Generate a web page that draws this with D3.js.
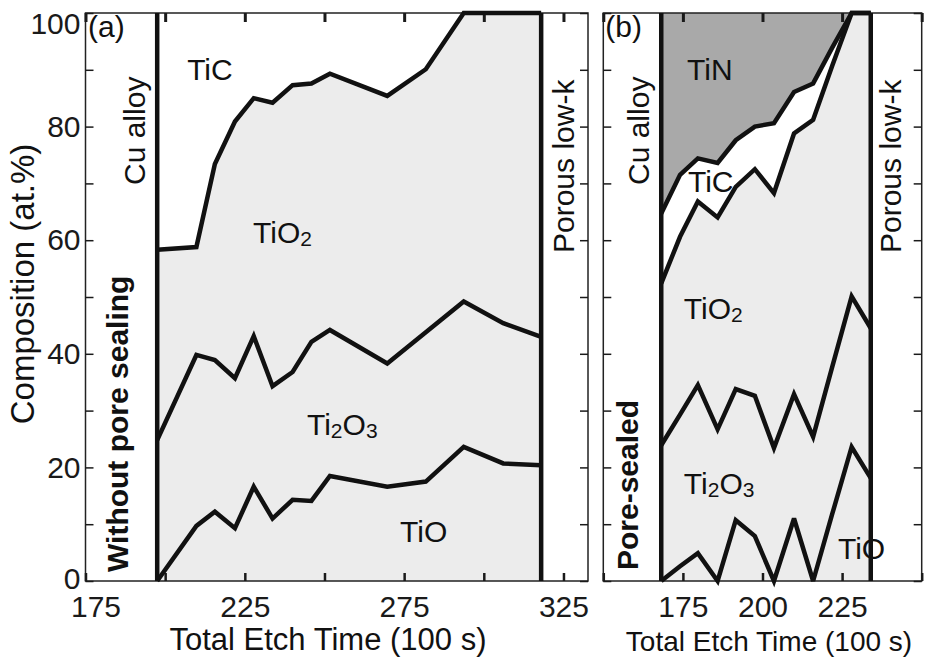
<!DOCTYPE html>
<meta charset="utf-8">
<style>
  body { margin: 0; background: #fff; }
  svg { display: block; font-family: "Liberation Sans", Arial, sans-serif; }
  .tick line { stroke: #1a1a1a; }
  .tick text { font-size: 30px; fill: #1a1a1a; font-family: "Liberation Sans", Arial, sans-serif; }
  .domain { display: none; }
</style>
<svg width="925" height="659"></svg>
<script src="https://d3js.org/d3.v7.min.js"></script>
<script>

// (a) without pore sealing - cumulative layer boundaries (at.%)
var timeA   = [197.5, 209.8, 215.6, 221.9, 227.8, 233.7, 240.0, 245.9, 251.7, 269.7, 281.8, 293.7, 306.1, 318.0];
var aTiO    = [0, 9.7, 12.2, 9.3, 16.6, 11.0, 14.3, 14.1, 18.5, 16.6, 17.5, 23.6, 20.7, 20.4];
var aTi2O3  = [24.8, 39.8, 38.9, 35.7, 43.1, 34.3, 36.8, 42.1, 44.2, 38.3, 43.8, 49.2, 45.4, 43.0];
var aTiO2   = [58.3, 58.8, 73.4, 80.9, 85.0, 84.2, 87.3, 87.6, 89.3, 85.4, 90.1, 100, 100, 100];
var wallsA  = [197.5, 318.0];

// (b) pore-sealed
var timeB   = [168.2, 174.1, 179.7, 185.9, 191.6, 197.6, 203.6, 209.9, 215.9, 221.9, 228.0, 234.0];
var bTiO    = [0, 2.6, 4.9, 0, 10.7, 7.9, 0, 11.0, 0, 11.8, 23.6, 18.1];
var bTi2O3  = [23.9, 29.3, 34.5, 26.7, 33.8, 32.6, 23.4, 32.9, 25.4, 37.7, 50.1, 44.5];
var bTiO2   = [52.4, 60.6, 66.8, 64.0, 69.4, 72.5, 68.3, 78.8, 81.2, 90.7, 100, 100];
var bTiC    = [64.7, 71.5, 74.4, 73.6, 77.6, 80.0, 80.6, 86.1, 87.6, 93.9, 100, 100];
var wallsB  = [168.2, 234.0];

var xTicksA = [175, 200, 225, 250, 275, 300, 325];
var xLabelsA = [175, 225, 275, 325];
var xTicksB = [150, 175, 200, 225, 250];
var xLabelsB = [175, 200, 225];
var yTicks = d3.range(0, 101, 10);
var yLabels = [0, 20, 40, 60, 80, 100];

var light = "#ececec", dark = "#a9a9a9", ink = "#111";

var svg = d3.select("svg");
var y = d3.scaleLinear().domain([0, 100]).range([581, 13]);
var xA = d3.scaleLinear().domain([175, 332.7]).range([85.5, 588]);
var xB = d3.scaleLinear().domain([150, 250]).range([603.3, 921.7]);

function fillArea(x, time, lo, hi, color) {
    var area = d3.area()
        .x(function(d, i) { return x(time[i]); })
        .y0(function(d, i) { return y(lo ? lo[i] : 0); })
        .y1(function(d, i) { return y(hi ? hi[i] : 100); });
    svg.append("path").datum(time).attr("d", area).attr("fill", color);
}

function boundary(x, time, vals) {
    var line = d3.line()
        .x(function(d, i) { return x(time[i]); })
        .y(function(d) { return y(d); });
    svg.append("path").datum(vals).attr("d", line)
        .attr("fill", "none").attr("stroke", ink)
        .attr("stroke-width", 4.5).attr("stroke-linejoin", "miter").attr("stroke-miterlimit", 3);
}

function walls(x, w) {
    svg.selectAll(null).data(w).enter().append("line")
        .attr("x1", function(d) { return x(d); }).attr("x2", function(d) { return x(d); })
        .attr("y1", y(0)).attr("y2", y(100))
        .attr("stroke", ink).attr("stroke-width", 4.5);
}

function label(x, parts, xv, yv, size) {
    var t = svg.append("text").attr("x", x(xv)).attr("y", y(yv))
        .attr("font-size", size || 30).attr("fill", ink);
    parts.forEach(function(p) {
        if (/^\d$/.test(p)) {
            t.append("tspan").attr("font-size", 21).attr("dy", 3).text(p);
        } else {
            t.append("tspan").attr("dy", t.selectAll("tspan").size() ? -3 : 0).text(p);
        }
    });
}

function sideLabel(px, py, text, bold, size) {
    svg.append("text").attr("transform", "translate(" + px + "," + py + ") rotate(-90)")
        .attr("font-size", size || 30).attr("font-weight", bold ? "bold" : "normal")
        .attr("fill", ink).text(text);
}

function frame(x, xTicks, xLabels, showY) {
    var left = x.range()[0], right = x.range()[1];
    svg.append("rect").attr("x", left).attr("y", y(100))
        .attr("width", right - left).attr("height", y(0) - y(100))
        .attr("fill", "none").attr("stroke", "#222").attr("stroke-width", 1.5);

    var gl = svg.append("g").attr("transform", "translate(" + left + ",0)")
        .call(d3.axisLeft(y).tickValues(yTicks).tickSize(-8).tickPadding(5)
            .tickFormat(function(d) { return showY && yLabels.indexOf(d) >= 0 ? d : ""; }));
    gl.selectAll(".tick line").attr("stroke-width", 1.5);
    gl.selectAll(".tick").filter(function(d) { return d === 100; }).select("text").attr("dy", "0.68em");
    gl.selectAll(".tick").filter(function(d) { return d === 0; }).select("text").attr("dy", "0.26em");

    svg.append("g").attr("transform", "translate(" + right + ",0)")
        .call(d3.axisRight(y).tickValues(yTicks).tickSize(-8).tickFormat(""))
        .selectAll(".tick line").attr("stroke-width", 1.5);

    svg.append("g").attr("transform", "translate(0," + y(100) + ")")
        .call(d3.axisTop(x).tickValues(xTicks).tickSize(-9).tickFormat(""))
        .selectAll(".tick line").attr("stroke-width", 3);

    var gb = svg.append("g").attr("transform", "translate(0," + y(0) + ")")
        .call(d3.axisBottom(x).tickValues(xTicks).tickSize(-8).tickPadding(15)
            .tickFormat(function(d) { return xLabels.indexOf(d) >= 0 ? d : ""; }));
    gb.selectAll(".tick line").attr("stroke-width", 2.5);
    gb.selectAll(".tick").filter(function(d) { return d === x.domain()[0]; }).select("text").attr("dx", 10);
}

// ---- panel (a)
fillArea(xA, timeA, null, aTiO2, light);
frame(xA, xTicksA, xLabelsA, true);
label(xA, ["TiC"], 206.9, 87.7);
label(xA, ["TiO", "2"], 227.6, 59.0);
label(xA, ["Ti", "2", "O", "3"], 244.5, 25.2);
label(xA, ["TiO"], 273.7, 6.3);
boundary(xA, timeA, aTiO);
boundary(xA, timeA, aTi2O3);
boundary(xA, timeA, aTiO2);
walls(xA, wallsA);
label(xA, ["(a)"], 175.8, 95.2);
sideLabel(145, 185, "Cu alloy");
sideLabel(574, 253, "Porous low-k");
sideLabel(128, 572, "Without pore sealing", true);

// ---- panel (b)
fillArea(xB, timeB, null, bTiO2, light);
fillArea(xB, timeB, bTiC, null, dark);
frame(xB, xTicksB, xLabelsB, false);
label(xB, ["TiN"], 176.3, 87.7);
label(xB, ["TiO", "2"], 175.3, 45.6);
label(xB, ["Ti", "2", "O", "3"], 175.3, 14.8);
label(xB, ["TiO"], 223.7, 3.3);
boundary(xB, timeB, bTiO);
boundary(xB, timeB, bTi2O3);
boundary(xB, timeB, bTiO2);
boundary(xB, timeB, bTiC);
label(xB, ["TiC"], 176.6, 68.0);
walls(xB, wallsB);
label(xB, ["(b)"], 150.6, 95.2);
sideLabel(649, 185, "Cu alloy");
sideLabel(901, 253, "Porous low-k");
sideLabel(638, 570, "Pore-sealed", true);

// axis titles
svg.append("text").attr("x", 328).attr("y", 650).attr("text-anchor", "middle")
    .attr("font-size", 31).attr("fill", ink).text("Total Etch Time (100 s)");
svg.append("text").attr("x", 769).attr("y", 651).attr("text-anchor", "middle")
    .attr("font-size", 28).attr("fill", ink).text("Total Etch Time (100 s)");
svg.append("text").attr("transform", "translate(34,284) rotate(-90)").attr("text-anchor", "middle")
    .attr("font-size", 33).attr("fill", ink).text("Composition (at.%)");

</script>
